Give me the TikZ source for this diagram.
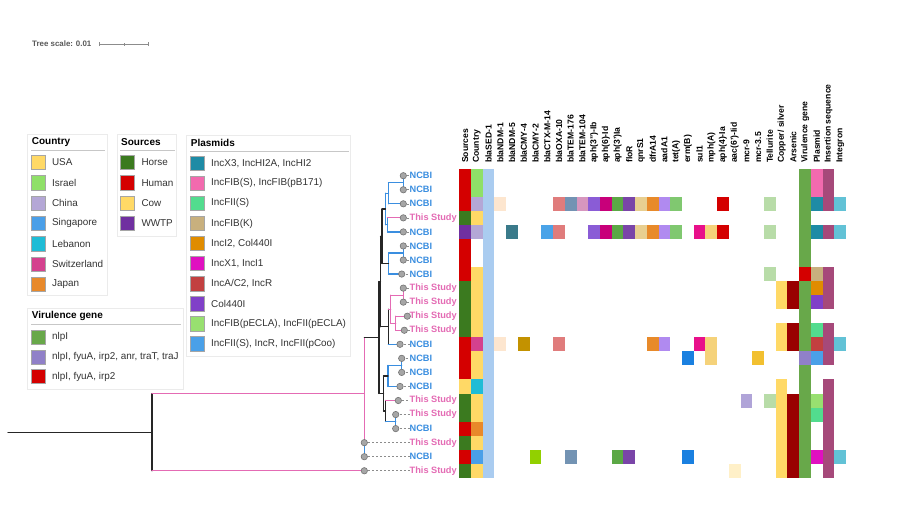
\documentclass[tikz,border=0pt]{standalone}
\usepackage{fontspec}
\setmainfont{Liberation Sans}
\usetikzlibrary{positioning,calc}

\newcommand\fsz[1]{\fontsize{#1}{#1}\selectfont}

% sources
\definecolor{sHorse}{HTML}{3B7A1F}
\definecolor{sHum}{HTML}{D40000}
\definecolor{sCow}{HTML}{FFD966}
\definecolor{sWWTP}{HTML}{7030A0}
% country
\definecolor{cUSA}{HTML}{FFD966}
\definecolor{cIsr}{HTML}{8FE068}
\definecolor{cChn}{HTML}{B4A7D6}
\definecolor{cSgp}{HTML}{4A9FE8}
\definecolor{cLeb}{HTML}{1FBCD6}
\definecolor{cSwi}{HTML}{D4418E}
\definecolor{cJpn}{HTML}{E8892A}
% plasmids
\definecolor{pX3}{HTML}{1E8BA5}
\definecolor{pFIBS}{HTML}{F26AAE}
\definecolor{pFIIS}{HTML}{52DC8E}
\definecolor{pFIBK}{HTML}{C8B07E}
\definecolor{pIT}{HTML}{E08C00}
\definecolor{pXO}{HTML}{E010C0}
\definecolor{pAC}{HTML}{C24040}
\definecolor{pCol}{HTML}{8040C8}
\definecolor{pECLA}{HTML}{98E070}
\definecolor{pFIIR}{HTML}{4AA0E8}
% virulence
\definecolor{vG}{HTML}{68A84A}
\definecolor{vP}{HTML}{9080C8}
\definecolor{vR}{HTML}{D40000}
% other columns
\definecolor{sed}{HTML}{AACCF0}
\definecolor{isC}{HTML}{A6497A}
\definecolor{intC}{HTML}{62C2D6}
\definecolor{cop}{HTML}{FFD966}
\definecolor{ars}{HTML}{990000}
\definecolor{tel}{HTML}{B8DCA8}
\definecolor{gPeach}{HTML}{FDE6CF}
\definecolor{gNDM}{HTML}{3A7A8A}
\definecolor{gCMYf}{HTML}{C39200}
\definecolor{gCMYt}{HTML}{92D000}
\definecolor{gCTX}{HTML}{4AA3E8}
\definecolor{gOXA}{HTML}{E07C7C}
\definecolor{gTEMa}{HTML}{7393B3}
\definecolor{gTEMb}{HTML}{D796BE}
\definecolor{gAphA}{HTML}{8A5CD6}
\definecolor{gAphB}{HTML}{C8007A}
\definecolor{gAphC}{HTML}{5BA845}
\definecolor{gFlo}{HTML}{7A45A8}
\definecolor{gQnr}{HTML}{E8CF90}
\definecolor{gDfr}{HTML}{E88A2A}
\definecolor{gAad}{HTML}{B08AF0}
\definecolor{gTet}{HTML}{80C870}
\definecolor{gErm}{HTML}{1A80E0}
\definecolor{gSul}{HTML}{E8108A}
\definecolor{gMph}{HTML}{F5D27A}
\definecolor{gAphD}{HTML}{D40000}
\definecolor{gAac}{HTML}{FFF0C8}
\definecolor{gMcrA}{HTML}{B0A4D8}
\definecolor{gMcrB}{HTML}{F2C030}
% tree
\definecolor{ncbiC}{HTML}{3A8EE0}
\definecolor{studyC}{HTML}{E46BB4}
\definecolor{dotC}{HTML}{A6A6A6}

\begin{document}
\begin{tikzpicture}[x=1pt,y=-1pt,
    every node/.style={inner sep=0pt},
    branch/.style={line width=1.2pt, line cap=round},
    ncbib/.style={branch, draw=ncbiC},
    studyb/.style={branch, draw=studyC},
    blackb/.style={branch, draw=black!85},
    leafdot/.style={circle, draw=black!55, fill=dotC, minimum size=6.4pt, line width=0.6pt},
    leaflab/.style={anchor=west, font=\bfseries\fsz{9.2}},
    tipdash/.style={draw=black!45, dash pattern=on 2pt off 2pt, line width=0.6pt},
    colhead/.style={rotate=90, anchor=west, font=\bfseries\fsz{8.6}},
    swatch/.style={draw=black!35, line width=0.4pt, minimum size=14.2pt},
    legtext/.style={anchor=west, text=black!80, font=\fsz{9.9}},
    legtitle/.style={anchor=west, font=\bfseries\fsz{10}},
    legframe/.style={draw=black!8, line width=0.8pt},
    legrule/.style={draw=black!22, line width=1pt}
  ]
  \useasboundingbox[fill=white] (0,0) rectangle (909,514);

  % tree scale
  \node[anchor=west, text=black!65, font=\bfseries\fsz{7.9}] (scale) at (32,44) {Tree scale: 0.01};
  \coordinate (sb0) at (99.3,44);
  \coordinate (sb1) at (148.3,44);
  \coordinate (sbm) at ($(sb0)!0.5!(sb1)$);
  \draw[black!45, line width=0.7pt] (sb0) -- (sb1);
  \draw[black!45, line width=0.7pt] ([yshift=-2]sb0) -- ([yshift=2]sb0);
  \draw[black!45, line width=0.7pt] ([yshift=-2]sb1) -- ([yshift=2]sb1);
  \draw[black!45, line width=0.5pt] ([yshift=-1.5]sbm) -- ([yshift=1.5]sbm);

  % legends
  \draw[legframe] (27.3,134) rectangle (107.3,295.7);
  \node[legtitle] (ctyT) at (31.7,141.7) {Country};
  \draw[legrule] (31,150.7) -- (105,150.7);
  \foreach \clr/\txt [count=\k] in {cUSA/USA, cIsr/Israel, cChn/China, cSgp/Singapore, cLeb/Lebanon, cSwi/Switzerland, cJpn/Japan}
  {
    \node[swatch, fill=\clr] (cty\k) at (37.85,{142+20.33*\k}) {};
    \node[legtext, right=6.7pt of cty\k] {\txt};
  }

  \draw[legframe] (117.7,134) rectangle (176.7,236);
  \node[legtitle] (srcT) at (121,141.7) {Sources};
  \draw[legrule] (120,150.7) -- (174.5,150.7);
  \foreach \clr/\txt [count=\k] in {sHorse/Horse, sHum/Human, sCow/Cow, sWWTP/WWTP}
  {
    \node[swatch, fill=\clr] (src\k) at (127.3,{142+20.33*\k}) {};
    \node[legtext, right=6.7pt of src\k] {\txt};
  }

  \draw[legframe] (186,135) rectangle (350.7,356.7);
  \node[legtitle] (plsT) at (190.7,143.3) {Plasmids};
  \draw[legrule] (190,151.7) -- (348.5,151.7);
  \foreach \clr/\txt [count=\k] in {pX3/{IncX3, IncHI2A, IncHI2}, pFIBS/{IncFIB(S), IncFIB(pB171)},
      pFIIS/{IncFII(S)}, pFIBK/{IncFIB(K)}, pIT/{IncI2, Col440I}, pXO/{IncX1, IncI1},
      pAC/{IncA/C2, IncR}, pCol/{Col440I}, pECLA/{IncFIB(pECLA), IncFII(pECLA)},
      pFIIR/{IncFII(S), IncR, IncFII(pCoo)}}
  {
    \node[swatch, fill=\clr] (pls\k) at (197,{143.25+20.05*\k}) {};
    \node[legtext, right=6.7pt of pls\k] {\txt};
  }

  \draw[legframe] (27.3,308.3) rectangle (183.3,389.3);
  \node[legtitle] (virT) at (31.7,316) {Virulence gene};
  \draw[legrule] (31,324) -- (181,324);
  \foreach \clr/\txt [count=\k] in {vG/nlpI, vP/{nlpI, fyuA, irp2, anr, traT, traJ}, vR/{nlpI, fyuA, irp2}}
  {
    \node[swatch, fill=\clr] (vir\k) at (37.85,{317.7+19.6*\k}) {};
    \node[legtext, right=6.7pt of vir\k] {\txt};
  }

  % column headers
  \foreach \h [count=\c from 0] in {Sources, Country, blaSED-1, blaNDM-1, blaNDM-5, blaCMY-4,
      blaCMY-2, blaCTX-M-14, blaOXA-10, blaTEM-176, blaTEM-104, {aph(3")-Ib}, {aph(6)-Id},
      {aph(3')Ia}, floR, qnrS1, dfrA14, aadA1, {tet(A)}, {erm(B)}, sul1, {mph(A)}, {aph(4)-Ia},
      {aac(6')-Iid}, mcr-9, mcr-3.5, Tellurite, {Copper/ silver}, Arsenic, Virulence gene,
      Plasmid, Insertion sequence, Integron}
    \node[colhead] (h\c) at ({459.3+11.72*(\c+0.5)},163) {\h};

  % heatmap
  \foreach \clr [count=\r from 0] in {sHum,sHum,sHum,sHorse,sWWTP,sHum,sHum,sHum,sHorse,sHorse,sHorse,
      sHorse,sHum,sHum,sHum,sCow,sHorse,sHorse,sHum,sHorse,sHum,sHorse}
    \fill[\clr] (459.3,{168.7+14.05*\r}) rectangle ++(11.72,14.05);
  \foreach \clr [count=\r from 0] in {cIsr,cIsr,cChn,cUSA,cChn,white,white,cUSA,cUSA,cUSA,cUSA,
      cUSA,cSwi,cUSA,cUSA,cLeb,cUSA,cUSA,cJpn,cUSA,cSgp,cUSA}
    \fill[\clr] (471.02,{168.7+14.05*\r}) rectangle ++(11.72,14.05);
  \fill[sed] (482.74,168.7) rectangle ++(11.72,309.1);
  \foreach \clr [count=\r from 0] in {vG,vG,vG,vG,vG,vG,vG,vR,vG,vG,vG,vG,vG,vP,vG,vG,vG,vG,vG,vG,vG,vG}
    \fill[\clr] (799.18,{168.7+14.05*\r}) rectangle ++(11.72,14.05);
  \foreach \clr [count=\r from 0] in {pFIBS,pFIBS,pX3,white,pX3,white,white,pFIBK,pIT,pCol,white,
      pFIIS,pAC,pFIIR,white,white,pECLA,pFIIS,white,white,pXO,white}
    \fill[\clr] (810.9,{168.7+14.05*\r}) rectangle ++(11.72,14.05);
  \foreach \r in {0,1,2,4,7,8,9,11,12,13,15,16,17,18,19,20,21}
    \fill[isC] (822.62,{168.7+14.05*\r}) rectangle ++(11.72,14.05);
  \foreach \r in {2,4,12,20}
    \fill[intC] (834.34,{168.7+14.05*\r}) rectangle ++(11.72,14.05);
  \foreach \r in {8,9,11,12,15,16,17,18,19,20,21}
    \fill[cop] (775.74,{168.7+14.05*\r}) rectangle ++(11.72,14.05);
  \foreach \r in {8,9,11,12,16,17,18,19,20,21}
    \fill[ars] (787.46,{168.7+14.05*\r}) rectangle ++(11.72,14.05);
  \foreach \r in {2,4,7,16}
    \fill[tel] (764.02,{168.7+14.05*\r}) rectangle ++(11.72,14.05);
  \foreach \c/\r/\clr in {3/2/gPeach, 8/2/gOXA, 9/2/gTEMa, 10/2/gTEMb, 11/2/gAphA, 12/2/gAphB,
      13/2/gAphC, 14/2/gFlo, 15/2/gQnr, 16/2/gDfr, 17/2/gAad, 18/2/gTet, 22/2/gAphD,
      4/4/gNDM, 7/4/gCTX, 8/4/gOXA, 11/4/gAphA, 12/4/gAphB, 13/4/gAphC, 14/4/gFlo, 15/4/gQnr,
      16/4/gDfr, 17/4/gAad, 18/4/gTet, 20/4/gSul, 21/4/gMph, 22/4/gAphD,
      3/12/gPeach, 5/12/gCMYf, 8/12/gOXA, 16/12/gDfr, 17/12/gAad, 20/12/gSul, 21/12/gMph,
      19/13/gErm, 21/13/gMph, 25/13/gMcrB, 24/16/gMcrA,
      6/20/gCMYt, 9/20/gTEMa, 13/20/gAphC, 14/20/gFlo, 19/20/gErm, 23/21/gAac}
    \fill[\clr] ({459.3+11.72*\c},{168.7+14.05*\r}) rectangle ++(11.72,14.05);

  % tips
  \foreach \i/\lx/\who/\txt in {0/403.3/ncbiC/NCBI, 1/403.3/ncbiC/NCBI, 2/403.3/ncbiC/NCBI,
      3/403.3/studyC/This Study, 4/403.3/ncbiC/NCBI, 5/403.3/ncbiC/NCBI, 6/403.3/ncbiC/NCBI,
      7/401.7/ncbiC/NCBI, 8/403.3/studyC/This Study, 9/403.3/studyC/This Study,
      10/407.3/studyC/This Study, 11/404.3/studyC/This Study, 12/400/ncbiC/NCBI,
      13/401.7/ncbiC/NCBI, 14/401.7/ncbiC/NCBI, 15/400/ncbiC/NCBI, 16/398.3/studyC/This Study,
      17/395.7/studyC/This Study, 18/395.7/ncbiC/NCBI, 19/364.3/studyC/This Study,
      20/364.3/ncbiC/NCBI, 21/364.3/studyC/This Study}
  {
    \coordinate (l\i) at (\lx,{175.7+14.05*\i});
    \node[leaflab, text=\who] (t\i) at (409.5,{175.7+14.05*\i}) {\txt};
    \draw[tipdash] (l\i) -- (t\i.west);
  }

  % inner nodes
  \coordinate (n01) at (403.3,182.725);
  \coordinate (n012) at (388.5,193.26);
  \coordinate (n34) at (387.5,224.875);
  \coordinate (nA) at (385.5,209.07);
  \coordinate (n56) at (403.3,252.975);
  \coordinate (nB) at (388.5,263.51);
  \coordinate (nAB) at (382,236.29);
  \coordinate (n89) at (403.3,295.125);
  \coordinate (n1011) at (395.7,323.225);
  \coordinate (n811) at (390.7,309.175);
  \coordinate (nC) at (388.3,326.74);
  \coordinate (nX) at (380.5,281.52);
  \coordinate (n1314) at (401.7,365.375);
  \coordinate (n1315) at (388,375.91);
  \coordinate (n1718) at (395.7,421.575);
  \coordinate (n1618) at (385.5,411.04);
  \coordinate (nY) at (383.5,393.475);
  \coordinate (nR) at (379,337.5);
  \coordinate (nP) at (364.3,393.59);
  \coordinate (n1920) at (364.3,449.675);
  \coordinate (root) at (152,432.17);
  \coordinate (stem) at (8,432.17);

  % branches
  \foreach \st/\pa/\ca/\cb in {ncbib/n01/l0/l1, ncbib/n012/n01/l2, ncbib/n34/l3/l4, ncbib/nA/n012/n34,
      ncbib/n56/l5/l6, ncbib/nB/n56/l7, blackb/nAB/nA/nB, studyb/n89/l8/l9, studyb/n1011/l10/l11,
      studyb/n811/n89/n1011, blackb/nC/n811/l12, blackb/nX/nAB/nC, ncbib/n1314/l13/l14,
      ncbib/n1315/n1314/l15, ncbib/n1718/l17/l18, blackb/n1618/l16/n1718, blackb/nY/n1315/n1618,
      blackb/nR/nX/nY, studyb/nP/nR/l19, ncbib/n1920/l19/l20, blackb/root/nP/l21}
    \draw[\st] (\pa |- \ca) -- (\pa |- \cb);
  \foreach \st/\pa/\ch in {ncbib/n012/n01, ncbib/n012/l2, studyb/n34/l3, ncbib/n34/l4,
      ncbib/nA/n012, ncbib/nA/n34, ncbib/nB/n56, ncbib/nB/l7, blackb/nAB/nA, blackb/nAB/nB,
      studyb/n811/n89, studyb/n1011/l10, studyb/n1011/l11, studyb/n811/n1011, studyb/nC/n811,
      ncbib/nC/l12, blackb/nX/nAB, blackb/nX/nC, ncbib/n1315/n1314, ncbib/n1315/l15,
      ncbib/n1618/n1718, studyb/n1618/l16, blackb/nY/n1315, blackb/nY/n1618, blackb/nR/nX,
      blackb/nR/nY, blackb/nP/nR, studyb/root/nP, studyb/root/l21}
    \draw[\st] (\pa |- \ch) -- (\ch);
  \draw[blackb] (stem) -- (root);

  \foreach \i in {0,...,21}
    \node[leafdot] (d\i) at (l\i) {};
\end{tikzpicture}
\end{document}
